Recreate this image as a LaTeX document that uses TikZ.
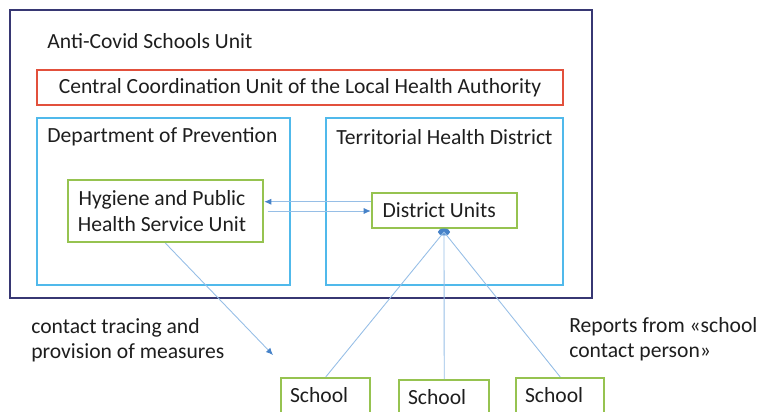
\documentclass[tikz,border=0pt]{standalone}
\usepackage{fontspec}
\setmainfont{Carlito}
\usetikzlibrary{arrows.meta,fit,shapes.geometric}
\definecolor{unitnavy}{RGB}{55,55,115}
\definecolor{coordred}{RGB}{226,80,60}
\definecolor{deptblue}{RGB}{80,185,235}
\definecolor{unitgreen}{RGB}{150,195,80}
\definecolor{linkblue}{RGB}{150,190,230}
\definecolor{tipblue}{RGB}{70,130,200}
\definecolor{textgray}{RGB}{30,30,30}

\begin{document}
\begin{tikzpicture}[x=0.02cm,y=-0.02cm,
  every node/.style={font=\fontsize{12.3}{15}\selectfont,text=textgray},
  outerbox/.style={draw=unitnavy,line width=1.5pt,inner sep=0pt},
  coordbox/.style={draw=coordred,line width=1.4pt,inner sep=0pt},
  deptbox/.style={draw=deptblue,line width=1.4pt,inner sep=0pt},
  greenbox/.style={draw=unitgreen,line width=1.4pt,inner sep=0pt},
  boxlabel/.style={anchor=west,inner sep=0pt},
  schoolbox/.style={draw=unitgreen,line width=1.4pt,anchor=north west,minimum height=0.76cm},
  link/.style={draw=linkblue,line width=0.5pt},
  flow/.style={link,-{Latex[length=4pt,width=3.5pt,color=tipblue]}}]
  \useasboundingbox (0,0) rectangle (758,412);
  \clip (0,0) rectangle (758,412);
  % containers
  \node[outerbox,fit={(10,10) (592,298)}] (acsu) {};
  \node[boxlabel] (acsulabel) at (47,41) {Anti-Covid Schools Unit};
  \node[coordbox,fit={(37,70) (563,105)}] (central) {};
  \node (centrallabel) at (central.center) {Central Coordination Unit of the Local Health Authority};
  \node[deptbox,fit={(37,118) (290,285)}] (prev) {};
  \node[boxlabel] (prevlabel) at (47,137) {Department of Prevention};
  \node[deptbox,fit={(326,118) (563,285)}] (terr) {};
  \node[boxlabel] (terrlabel) at (336,137) {Territorial Health District};
  % units
  \node[greenbox,fit={(68,180) (263,242)}] (hyg) {};
  \node[align=center] (hyglabel) at ([xshift=-2pt]hyg.center) {Hygiene and Public\\Health Service Unit};
  \node[greenbox,fit={(372,193) (517,228)}] (dist) {};
  \node (distlabel) at ([xshift=-3pt]dist.center) {District Units};
  \node[ellipse,fill=tipblue,inner sep=0pt,minimum width=7pt,minimum height=4pt] (hub) at (444,232) {};
  % schools
  \node[schoolbox,minimum width=1.78cm] (school1) at (280,377) {};
  \node[schoolbox,minimum width=1.8cm] (school2) at (398,379) {};
  \node[schoolbox,minimum width=1.76cm] (school3) at (515,377) {};
  \foreach \s/\y in {school1/395, school2/397, school3/395}
    \node[boxlabel] at ([xshift=5.5pt]\s.west |- 0,\y) {School};
  % links
  \draw[flow] ([yshift=5pt]dist.west) -- ([yshift=5pt]dist.west -| hyg.east);
  \draw[flow] ([xshift=2pt]hyg.east) -- (hyg.east -| dist.west);
  \coordinate (traceend) at (273,355);
  \draw[flow] (hyg.south) -- (traceend);
  \draw[link] (hub.center) -- (school1.north);
  \draw[link] (hub.center) -- (school2.north);
  \draw[link] (hub.center) -- (school3.north);
  % notes
  \node[boxlabel,align=left,font=\fontsize{12.3}{14.5}\selectfont] (tracenote) at (31,340.5) {contact tracing and\\provision of measures};
  \node[boxlabel,align=left,font=\fontsize{12.3}{14.5}\selectfont] (reportnote) at (569,339) {Reports from «school\\contact person»};
\end{tikzpicture}
\end{document}
